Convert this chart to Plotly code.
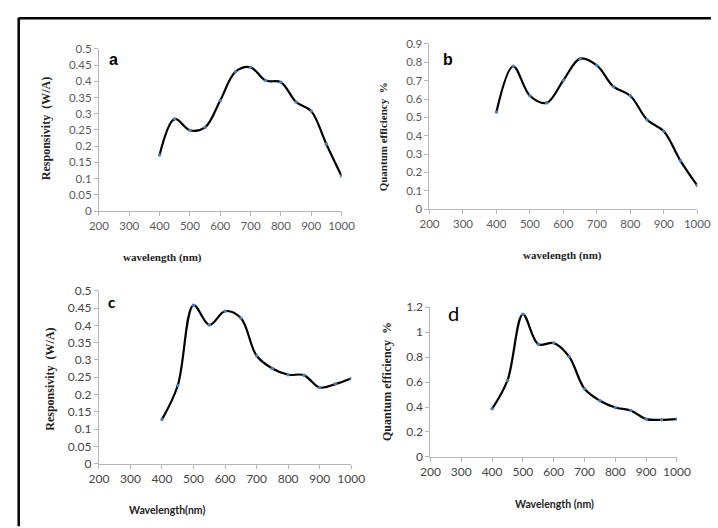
import plotly.graph_objects as go

wavelength = [400, 450, 500, 550, 600, 650, 700, 750, 800, 850, 900, 950, 1000]
resp_a = [0.173, 0.284, 0.249, 0.258, 0.341, 0.429, 0.443, 0.402, 0.397, 0.336, 0.308, 0.206, 0.108]
qe_b = [0.529, 0.778, 0.618, 0.579, 0.702, 0.820, 0.783, 0.667, 0.618, 0.487, 0.424, 0.263, 0.129]
resp_c = [0.128, 0.226, 0.458, 0.401, 0.441, 0.421, 0.312, 0.275, 0.257, 0.256, 0.220, 0.230, 0.246]
qe_d = [0.385, 0.613, 1.143, 0.903, 0.913, 0.804, 0.546, 0.450, 0.396, 0.372, 0.303, 0.297, 0.303]

x_ticks = [200, 300, 400, 500, 600, 700, 800, 900, 1000]
W, H = 718, 528

def px(x):
    return x / W

def py(y):
    return 1 - y / H

top_tick = dict(family="Lato, Open Sans, sans-serif", size=11.5, color="#5a5a5a")
bot_tick = dict(family="Lato, Open Sans, sans-serif", size=12, color="#454545")

panels = [
    dict(y=resp_a, ax="", dom_x=(92, 343), dom_y=(209, 42), yr=(0, 0.5), dt=0.05, tf=top_tick),
    dict(y=qe_b, ax="2", dom_x=(434, 711), dom_y=(207, 37), yr=(0, 0.9), dt=0.1, tf=top_tick),
    dict(y=resp_c, ax="3", dom_x=(92, 353), dom_y=(469, 291), yr=(0, 0.5), dt=0.05, tf=bot_tick),
    dict(y=qe_d, ax="4", dom_x=(435, 690), dom_y=(462, 308), yr=(0, 1.2), dt=0.2, tf=bot_tick),
]

fig = go.Figure()
layout = {}
for p in panels:
    fig.add_trace(go.Scatter(
        x=wavelength, y=p["y"], mode="lines+markers",
        line=dict(color="black", width=2.2, shape="spline", smoothing=1.0),
        marker=dict(color="#4a7ebb", size=3.5),
        xaxis="x" + p["ax"], yaxis="y" + p["ax"], showlegend=False,
        hoverinfo="skip"))
    n = p["ax"]
    layout["xaxis" + n] = dict(
        domain=[px(p["dom_x"][0]), px(p["dom_x"][1])], range=[200, 1000],
        tickvals=x_ticks, showgrid=False, zeroline=False, showline=True,
        linecolor="#b5b5b5", linewidth=1, ticks="outside", ticklen=4,
        tickcolor="#b5b5b5", tickfont=p["tf"], anchor="y" + n, fixedrange=True)
    layout["yaxis" + n] = dict(
        domain=[py(p["dom_y"][0]), py(p["dom_y"][1])], range=list(p["yr"]),
        dtick=p["dt"], tick0=0, showgrid=False, zeroline=False, showline=True,
        linecolor="#b5b5b5", linewidth=1, ticks="outside", ticklen=4,
        tickcolor="#b5b5b5", tickfont=p["tf"], anchor="x" + n, fixedrange=True)

serif_b = dict(family="Liberation Serif, DejaVu Serif, serif", size=12, color="#222222")
sans_b = dict(family="Lato, Open Sans, sans-serif", size=10.5, color="#222222")

annotations = [
    # x titles
    dict(text="<b>wavelength (nm)</b>", x=px(158), y=py(257), font=dict(serif_b, size=11)),
    dict(text="<b>wavelength (nm)</b>", x=px(358 + 214), y=py(255), font=dict(serif_b, size=11)),
    dict(text="<b>Wavelength(nm)</b>", x=px(162), y=py(517), font=sans_b),
    dict(text="<b>Wavelength (nm)</b>", x=px(358 + 205), y=py(511), font=sans_b),
    # y titles
    dict(text="<b>Responsivity  (W/A)</b>", x=px(38), y=py(124), textangle=-90, font=serif_b),
    dict(text="<b>Quantum efficiency  %</b>", x=px(386), y=py(133), textangle=-90, font=dict(serif_b, size=11)),
    dict(text="<b>Responsivity  (W/A)</b>", x=px(42), y=py(382), textangle=-90, font=serif_b),
    dict(text="<b>Quantum efficiency  %</b>", x=px(390), y=py(384), textangle=-90, font=serif_b),
    # panel letters
    dict(text="<b>a</b>", x=px(107), y=py(53), font=dict(family="Liberation Sans, Arial, sans-serif", size=16, color="black")),
    dict(text="<b>b</b>", x=px(453), y=py(53), font=dict(family="Liberation Sans, Arial, sans-serif", size=16, color="black")),
    dict(text="<b>c</b>", x=px(105), y=py(303), font=dict(family="Lato, sans-serif", size=15, color="black")),
    dict(text="d", x=px(459), y=py(314), font=dict(family="Lato, sans-serif", size=20, color="black")),
]
for a in annotations:
    a.update(xref="paper", yref="paper", showarrow=False, xanchor="center", yanchor="middle")

shapes = [
    dict(type="line", xref="paper", yref="paper", x0=px(9), x1=1.01, y0=py(10.5), y1=py(10.5),
         line=dict(color="black", width=2.5)),
    dict(type="line", xref="paper", yref="paper", x0=px(9), x1=px(9), y0=py(10), y1=-0.01,
         line=dict(color="black", width=2.5)),
]

fig.update_layout(
    width=W, height=H, margin=dict(l=0, r=0, t=0, b=0),
    paper_bgcolor="white", plot_bgcolor="white",
    annotations=annotations, shapes=shapes, **layout)

fig.write_html("out.html", config={"displayModeBar": False})
